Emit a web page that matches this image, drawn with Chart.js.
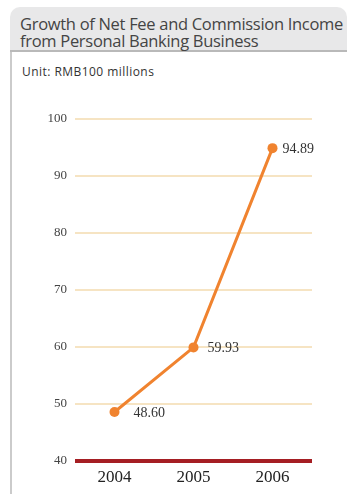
<!DOCTYPE html>
<html>
<head>
<meta charset="utf-8">
<script src="https://cdn.jsdelivr.net/npm/chart.js@4/dist/chart.umd.min.js"></script>
<style>
  html, body { margin: 0; padding: 0; background: #fff; }
  body { width: 347px; height: 494px; position: relative; overflow: hidden; }
  #head {
    position: absolute; left: 10px; top: 7px; width: 337px; height: 43px;
    background: #e8e8e9; border-radius: 10px 10px 0 0;
    border-bottom: 2px solid #b9b9b9;
  }
  #title {
    position: absolute; left: 20px; top: 15px;
    font-family: "Open Sans", sans-serif; font-size: 16.5px; line-height: 17px;
    letter-spacing: -0.3px; color: #444; white-space: nowrap;
  }
  #rule {
    position: absolute; left: 10px; top: 52px; width: 2px; height: 442px;
    background: #cbcbcb;
  }
  #unit {
    position: absolute; left: 22px; top: 63px;
    font-family: "Open Sans", sans-serif; font-size: 12px; letter-spacing: 0.45px; color: #333;
  }
  #wrap { position: absolute; left: 0; top: 0; width: 347px; height: 494px; }
</style>
</head>
<body>
<div id="head"></div>
<div id="title">Growth of Net Fee and Commission Income<br>from Personal Banking Business</div>
<div id="rule"></div>
<div id="unit">Unit: RMB100 millions</div>
<div id="wrap"><canvas id="c" width="347" height="494"></canvas></div>
<script>
const years = ['2004', '2005', '2006'];
const feeIncome = [48.60, 59.93, 94.89];
const yTicks = [40, 50, 60, 70, 80, 90, 100];

const ORANGE = '#f0832f';
const GRID = '#f6e4c3';
const BASE = '#a51e23';
const SERIF = '"Liberation Serif", "Times New Roman", serif';

// value labels written to the right of each point (gap in px per point)
const labelGap = [19, 14, 10];
const valueLabels = {
  id: 'valueLabels',
  afterDatasetsDraw(chart) {
    const ctx = chart.ctx;
    const meta = chart.getDatasetMeta(0);
    ctx.save();
    ctx.font = '14px ' + SERIF;
    ctx.fillStyle = '#333';
    ctx.textAlign = 'left';
    ctx.textBaseline = 'middle';
    meta.data.forEach((pt, i) => {
      ctx.fillText(feeIncome[i].toFixed(2), pt.x + labelGap[i], pt.y + 1);
    });
    ctx.restore();
  }
};

new Chart(document.getElementById('c'), {
  type: 'line',
  data: {
    labels: years,
    datasets: [{
      data: feeIncome,
      borderColor: ORANGE,
      backgroundColor: ORANGE,
      borderWidth: 3,
      pointRadius: 5,
      pointHoverRadius: 5,
      pointBackgroundColor: ORANGE,
      pointBorderWidth: 0,
      tension: 0,
      clip: false
    }]
  },
  options: {
    responsive: false,
    animation: false,
    events: [],
    layout: { padding: { left: 0, right: 35, top: 119, bottom: 0 } },
    plugins: { legend: { display: false }, tooltip: { enabled: false } },
    scales: {
      x: {
        offset: true,
        grid: { display: false, drawTicks: false },
        border: { display: false },
        ticks: { font: { family: SERIF, size: 17 }, color: '#222', padding: 6 },
        afterFit(s) { s.height = 33; }
      },
      y: {
        min: 40, max: 100,
        afterBuildTicks(s) { s.ticks = yTicks.map(v => ({ value: v })); },
        grid: {
          drawTicks: false,
          color: ctx => ctx.tick && ctx.tick.value === 40 ? BASE : GRID,
          lineWidth: ctx => ctx.tick && ctx.tick.value === 40 ? 4 : 2
        },
        border: { display: false },
        ticks: { font: { family: SERIF, size: 13 }, color: '#444', padding: 8 },
        afterFit(s) { s.width = 75; }
      }
    }
  },
  plugins: [valueLabels]
});
</script>
</body>
</html>
